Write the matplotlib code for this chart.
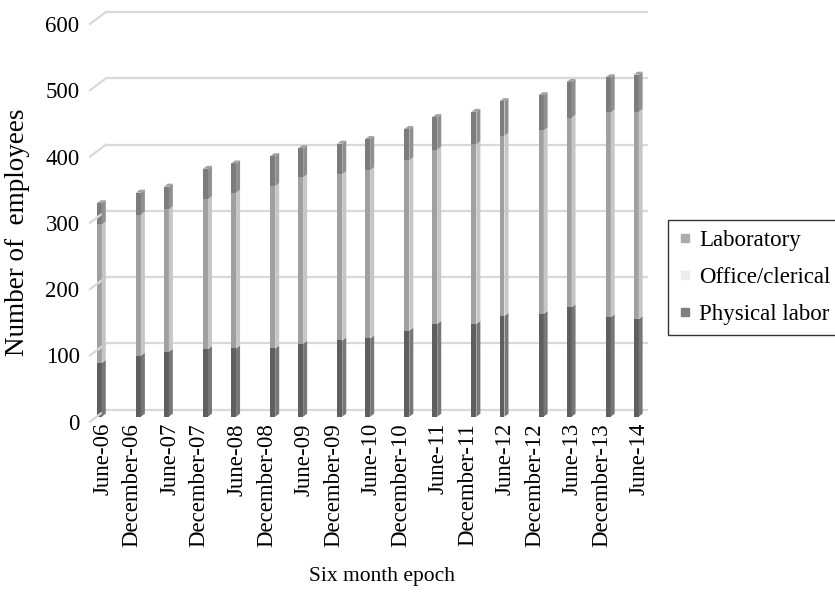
import datetime as dt
import matplotlib
matplotlib.use("Agg")
import matplotlib.pyplot as plt
import matplotlib.dates as mdates
from matplotlib.patches import Polygon
from matplotlib.lines import Line2D
from matplotlib.transforms import ScaledTranslation, IdentityTransform

# ---- data -------------------------------------------------------------
periods = ["June-06", "December-06", "June-07", "December-07", "June-08",
           "December-08", "June-09", "December-09", "June-10", "December-10",
           "June-11", "December-11", "June-12", "December-12", "June-13",
           "December-13", "June-14"]
physical_labor = [81, 92, 98, 102, 103, 103, 110, 115, 118, 130, 140, 140,
                  152, 155, 165, 150, 147]
office_clerical = [209, 213, 215, 226, 235, 245, 251, 251, 254, 257, 263, 271,
                   272, 277, 286, 309, 313]
laboratory = [32, 33, 34, 46, 44, 45, 44, 46, 47, 47, 49, 49, 52, 53, 54, 53,
              56]
y_ticks = [0, 100, 200, 300, 400, 500, 600]

# epoch dates: mid-year count on 1 June, year-end count on 31 December
def epoch_date(label):
    month, yy = label.split("-")
    year = 2000 + int(yy)
    return dt.date(year, 6, 1) if month == "June" else dt.date(year, 12, 31)

xdates = mdates.date2num([epoch_date(p) for p in periods])

# ---- figure -----------------------------------------------------------
W, H, DPI = 835, 593, 100
fig = plt.figure(figsize=(W / DPI, H / DPI), dpi=DPI)
plt.rcParams["font.family"] = ["Liberation Serif", "DejaVu Serif"]

left_px, right_px, top_px, bottom_px = 90, 632, 24, 421.7
ax = fig.add_axes([left_px / W, 1 - bottom_px / H,
                   (right_px - left_px) / W, (bottom_px - top_px) / H])
ax.set_xlim(xdates[0] - 14, xdates[-1] + 14)
ax.set_ylim(0, 600)
for s in ax.spines.values():
    s.set_visible(False)
ax.patch.set_visible(False)

def shifted(dx, dy):
    return ax.transData + ScaledTranslation(dx / DPI, dy / DPI, fig.dpi_scale_trans)

WALL = (16, 12)      # floor depth (front edge -> back wall), pixels
FACE = (6.7, 5)      # where bar fronts sit inside the floor
DEPTH = (4, 3)       # bar depth
grid_c = "#d9d9d9"

# back-wall gridlines with their short left-wall runs
x0, x1 = ax.get_xlim()
for v in y_ticks:
    ax.plot([x0, x1], [v, v], color=grid_c, lw=1.6, transform=shifted(*WALL),
            clip_on=False, zorder=1, solid_capstyle="butt")
    p = ax.transData.transform((x0, v))
    fig.add_artist(Line2D([p[0], p[0] + WALL[0]], [p[1], p[1] + WALL[1]],
                          color=grid_c, lw=1.6, transform=IdentityTransform()))

# ---- stacked 3-D columns ---------------------------------------------
bar_w = 27  # days
series = [
    ("Physical labor", physical_labor, "#5f5f5f", "#777777"),
    ("Office/clerical", office_clerical, "#a0a0a0", "#c6c6c6"),
    ("Laboratory", laboratory, "#7c7c7c", "#8f8f8f"),
]
bottoms = [0] * len(periods)
for name, vals, front_c, side_c in series:
    ax.bar(xdates, vals, width=bar_w, bottom=bottoms, color=front_c,
           linewidth=0, transform=shifted(*FACE), clip_on=False, zorder=3)
    for x, b, v in zip(xdates, bottoms, vals):
        r0 = ax.transData.transform((x + bar_w / 2, b))
        r1 = ax.transData.transform((x + bar_w / 2, b + v))
        r0 = (r0[0] + FACE[0], r0[1] + FACE[1])
        r1 = (r1[0] + FACE[0], r1[1] + FACE[1])
        side = [r0, r1, (r1[0] + DEPTH[0], r1[1] + DEPTH[1]),
                (r0[0] + DEPTH[0], r0[1] + DEPTH[1])]
        fig.add_artist(Polygon(side, closed=True, facecolor=side_c, lw=0,
                               transform=IdentityTransform(), zorder=3))
    bottoms = [b + v for b, v in zip(bottoms, vals)]

# cap faces on top of each column
for x, top in zip(xdates, bottoms):
    l1 = ax.transData.transform((x - bar_w / 2, top))
    r1 = ax.transData.transform((x + bar_w / 2, top))
    l1 = (l1[0] + FACE[0], l1[1] + FACE[1])
    r1 = (r1[0] + FACE[0], r1[1] + FACE[1])
    cap = [l1, r1, (r1[0] + DEPTH[0], r1[1] + DEPTH[1]),
           (l1[0] + DEPTH[0], l1[1] + DEPTH[1])]
    fig.add_artist(Polygon(cap, closed=True, facecolor="#a2a2a2", lw=0,
                           transform=IdentityTransform(), zorder=4))

# ---- axes text --------------------------------------------------------
fs = 16.5
ax.set_yticks(y_ticks)
ax.set_yticklabels([str(v) for v in y_ticks], fontsize=fs)
ax.tick_params(axis="y", length=0, pad=7.5)

ax.set_xticks(xdates)
ax.set_xticklabels(periods, rotation=90, fontsize=fs)
ax.tick_params(axis="x", length=0, pad=1)
for lab, name in zip(ax.get_xticklabels(), periods):
    dx = 10 if name.startswith("June") else 0.5
    lab.set_transform(lab.get_transform() +
                      ScaledTranslation(dx / DPI, 0, fig.dpi_scale_trans))

fig.text(18 / W, 1 - 232 / H, "Number of  employees", rotation=90,
         ha="center", va="center", fontsize=19.5)
fig.text(382 / W, 1 - 577 / H, "Six month epoch", ha="center", va="center",
         fontsize=15.5)

# ---- legend -----------------------------------------------------------
handles = [
    Line2D([], [], ls="", marker="s", markersize=6, color="#acacac"),
    Line2D([], [], ls="", marker="s", markersize=6, color="#ececec"),
    Line2D([], [], ls="", marker="s", markersize=6, color="#7f7f7f"),
]
leg = fig.legend(handles, ["Laboratory", "Office/clerical", "Physical labor"],
                 loc="upper left", bbox_to_anchor=(668 / W, 1 - 220 / H),
                 bbox_transform=fig.transFigure, fontsize=fs, frameon=True,
                 fancybox=False, edgecolor="black", handlelength=0.6,
                 handletextpad=0.3, borderpad=0.45, labelspacing=0.68,
                 borderaxespad=0)
leg.get_frame().set_linewidth(1.0)

fig.savefig("out.png", dpi=DPI)
